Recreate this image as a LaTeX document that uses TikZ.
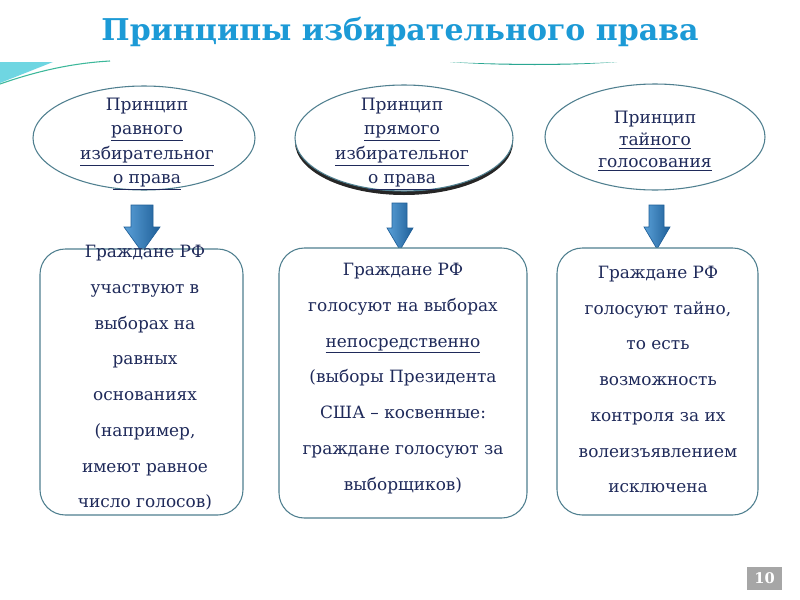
\documentclass[tikz,border=0pt]{standalone}
\usepackage{fontspec}
\setmainfont{DejaVu Serif}
\usetikzlibrary{shapes.geometric,shadows}
\definecolor{titleblue}{HTML}{1C9AD6}
\definecolor{navy}{HTML}{1F2A5A}
\definecolor{edgecol}{HTML}{4F7F8F}
\definecolor{arrowlight}{HTML}{5AA0D8}
\definecolor{arrowdark}{HTML}{1F5F98}
\definecolor{wedge}{HTML}{6FD6E2}
\definecolor{swoosh}{HTML}{3CB89A}
\definecolor{pagegray}{HTML}{A6A6A6}
\newlength\pxu
\setlength\pxu{0.75pt}
\begin{document}
\begin{tikzpicture}[x=0.75pt,y=-0.75pt,
  ell/.style={ellipse, draw=edgecol, line width=0.8pt, fill=white, inner sep=0pt},
  etext/.style={align=center, text=navy, inner sep=0pt, font=\fontsize{12.8}{18.4}\selectfont},
  etextb/.style={align=center, text=navy, inner sep=0pt, font=\fontsize{12.8}{16.5}\selectfont},
  box/.style={draw=edgecol, line width=0.8pt, fill=white, rounded corners=19pt, inner sep=0pt},
  btext/.style={align=center, text=navy, inner sep=0pt, font=\fontsize{12.7}{26.8}\selectfont},
  barrow/.style={left color=arrowlight, right color=arrowdark, draw=arrowdark, line width=0.5pt},
  titlestyle/.style={text=titleblue, font=\fontsize{22.5}{27}\selectfont\bfseries, inner sep=0pt},
  pagebox/.style={fill=pagegray, text=white, font=\fontsize{11}{13}\selectfont\bfseries, minimum width=35\pxu, minimum height=23\pxu, inner sep=0pt}
]
\useasboundingbox (0,0) rectangle (800,600);
\fill[white] (0,0) rectangle (800,600);

% decorations
\fill[wedge] (0,62) -- (53,62) -- (0,83) -- cycle;
\draw[swoosh, line width=0.8pt] (0,84) .. controls (40,70) and (75,63) .. (110,61);
\fill[swoosh!70!teal] (450,62) .. controls (500,66) and (570,66) .. (617,62) .. controls (570,64.5) and (500,64.5) .. (450,62) -- cycle;

% title
\node[titlestyle, anchor=base] (title) at (400,40) {Принципы избирательного права};

% ellipses
\node[ell, minimum width=222\pxu, minimum height=104\pxu] (e1) at (144,138) {};
\node[ell, minimum width=218\pxu, minimum height=106\pxu, drop shadow={shadow xshift=0pt, shadow yshift=-3pt, opacity=0.85, fill=black}] (e2) at (404,138) {};
\node[ell, minimum width=220\pxu, minimum height=106\pxu] (e3) at (655,137) {};

\node[etext] (t1) at (147,144) {Принцип\\\underline{равного}\\\underline{избирательног}\\\underline{о права}};
\node[etext] (t2) at (402,144) {Принцип\\\underline{прямого}\\\underline{избирательног}\\\underline{о права}};
\node[etextb] (t3) at (655,141) {Принцип\\\underline{тайного}\\\underline{голосования}};

% block arrows (drawn under the boxes)
\shade[barrow] (131,205) -- (153,205) -- (153,227) -- (160,227) -- (142,252) -- (124,227) -- (131,227) -- cycle;
\shade[barrow] (392,203) -- (407,203) -- (407,228) -- (413,228) -- (400,250) -- (387,228) -- (392,228) -- cycle;
\shade[barrow] (649,205) -- (664,205) -- (664,227) -- (670,227) -- (657,249) -- (644,227) -- (649,227) -- cycle;

% boxes
\node[box, minimum width=203\pxu, minimum height=266\pxu] (b1) at (141.5,382) {};
\node[box, minimum width=248\pxu, minimum height=270\pxu] (b2) at (403,383) {};
\node[box, minimum width=201\pxu, minimum height=267\pxu] (b3) at (657.5,381.5) {};

% box texts
\node[btext] (bt1) at (145,378) {Граждане РФ\\участвуют в\\выборах на\\равных\\основаниях\\(например,\\имеют равное\\число голосов)};
\node[btext] (bt2) at (403,378.5) {Граждане РФ\\голосуют на выборах\\\underline{непосредственно}\\(выборы Президента\\США – косвенные:\\граждане голосуют за\\выборщиков)};
\node[btext] (bt3) at (658,379.5) {Граждане РФ\\голосуют тайно,\\то есть\\возможность\\контроля за их\\волеизъявлением\\исключена};

% page number
\node[pagebox] (pg) at (764.5,578.5) {10};
\end{tikzpicture}
\end{document}
